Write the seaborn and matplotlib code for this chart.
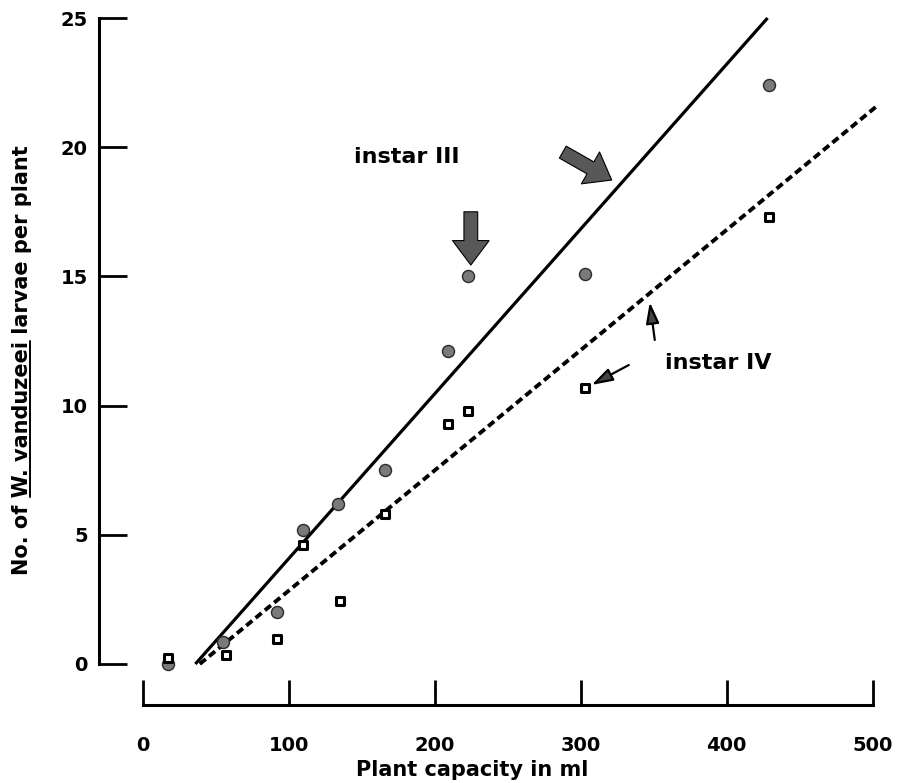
import matplotlib
matplotlib.use("Agg")
import matplotlib.pyplot as plt
import seaborn as sns
import numpy as np
from matplotlib.lines import Line2D

# ---- data ----
cap3 = [17, 55, 92, 110, 134, 166, 209, 223, 303, 429]
lar3 = [0.0, 0.85, 2.0, 5.2, 6.2, 7.5, 12.1, 15.0, 15.1, 22.4]
cap4 = [17, 57, 92, 110, 135, 166, 209, 223, 303, 429]
lar4 = [0.25, 0.35, 0.95, 4.6, 2.45, 5.8, 9.3, 9.8, 10.7, 17.3]
fit3_x = [36, 428]
fit3_y = [0.0, 25.0]
fit4_x = [39, 503]
fit4_y = [0.0, 21.6]
xticks = [0, 100, 200, 300, 400, 500]
yticks = [0, 5, 10, 15, 20, 25]
label3 = "instar III"
label4 = "instar IV"
xlab = "Plant capacity in ml"
ylab_pre = "No. of "
ylab_sp = "W. vanduzeei"
ylab_post = " larvae per plant"

sns.set_theme(style="ticks")
plt.rcParams['font.family'] = ['DejaVu Sans']
plt.rcParams['font.weight'] = 'bold'

fig = plt.figure(figsize=(9.01, 7.83), dpi=100)
ax = fig.add_axes([0.1099, 0.0992, 0.883, 0.891])
ax.set_xlim(-30, 515)
ax.set_ylim(-1.6, 25.4)

sns.lineplot(x=fit3_x, y=fit3_y, ax=ax, color="black", linewidth=2.3,
             solid_capstyle="butt")
sns.lineplot(x=fit4_x, y=fit4_y, ax=ax, color="black", linewidth=2.8,
             linestyle=(0, (2.0, 1.1)), dash_capstyle="butt")
sns.scatterplot(x=cap3, y=lar3, ax=ax, marker="o", s=75, color="#7a7a7a",
                edgecolor="#2a2a2a", linewidth=1.0, zorder=3)
sns.scatterplot(x=cap4, y=lar4, ax=ax, marker="s", s=30, color="white",
                edgecolor="black", linewidth=2.2, zorder=3)

for s in ["top", "right"]:
    ax.spines[s].set_visible(False)
ax.spines["left"].set_bounds(0, 25)
ax.spines["bottom"].set_bounds(0, 500)
for s in ["left", "bottom"]:
    ax.spines[s].set_linewidth(2.2)
    ax.spines[s].set_color("black")

ax.set_xticks(xticks)
ax.set_yticks(yticks)
ax.set_xticklabels([str(v) for v in xticks])
ax.set_yticklabels([str(v) for v in yticks])
ax.tick_params(axis="y", direction="in", length=20, width=2.0, pad=8,
               labelsize=14, colors="black")
ax.tick_params(axis="x", direction="in", length=18, width=2.0, pad=22,
               labelsize=14, colors="black")
for t in ax.get_xticklabels() + ax.get_yticklabels():
    t.set_fontweight("bold")

ax.set_xlabel(xlab, fontsize=15, fontweight="bold", color="black",
              va="center")
ax.xaxis.set_label_coords(0.469, -0.093)
ax.set_ylabel("")

# annotations
ax.text(145, 19.62, label3, fontsize=16, fontweight="bold", va="center",
        ha="left", color="black")
ax.text(358, 11.65, label4, fontsize=16, fontweight="bold", va="center",
        ha="left", color="black")

fat = dict(arrowstyle="simple,head_length=0.8,head_width=1.2,tail_width=0.45",
           fc="#585858", ec="black", lw=0.8, shrinkA=0, shrinkB=0,
           mutation_scale=22)
ax.annotate("", xy=(224.7, 15.44), xytext=(224.7, 17.5), arrowprops=fat)
ax.annotate("", xy=(321.2, 18.73), xytext=(287.7, 19.81), arrowprops=fat)
thin = dict(arrowstyle="-|>,head_length=0.8,head_width=0.25",
            fc="#444", ec="black", lw=1.6, shrinkA=0, shrinkB=0,
            mutation_scale=16)
ax.annotate("", xy=(347.3, 14.0), xytext=(350.7, 12.54), arrowprops=thin)
ax.annotate("", xy=(307.5, 10.8), xytext=(332.9, 11.57), arrowprops=thin)

# y label with underlined species name
fig.canvas.draw()
renderer = fig.canvas.get_renderer()
props = dict(fontsize=15, fontweight="bold", color="black")
full = ylab_pre + ylab_sp + ylab_post

def width_px(s):
    t = fig.text(0, 0, s, **props)
    w = t.get_window_extent(renderer).width
    t.remove()
    return w

w_full = width_px(full)
w_start = width_px(ylab_pre + "W") - width_px("W")
w_end = width_px(ylab_pre + ylab_sp)
H = fig.bbox.height
Wf = fig.bbox.width
cy = H - 360
y0 = cy - w_full / 2
yl = fig.text(22 / Wf, y0 / H, full, rotation=90, ha="center", va="bottom",
              **props)
bb = yl.get_window_extent(renderer)
ux = bb.x1 - 2.5
fig.add_artist(Line2D([ux / Wf, ux / Wf], [(y0 + w_start) / H, (y0 + w_end) / H],
                      transform=fig.transFigure, color="black", lw=1.4))

fig.savefig("out.png", dpi=100)
